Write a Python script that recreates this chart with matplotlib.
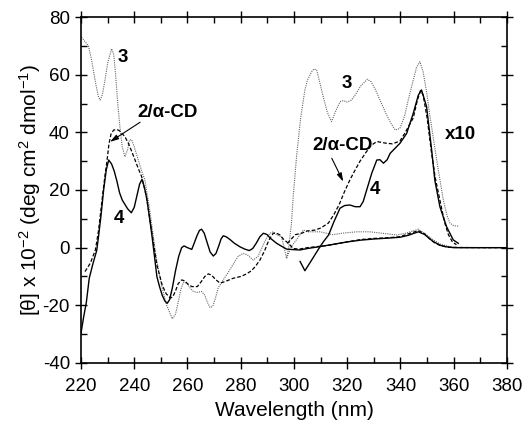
import matplotlib
matplotlib.use("Agg")
import matplotlib.pyplot as plt
from matplotlib.ticker import MultipleLocator

plt.rcParams['font.family'] = ['Liberation Sans', 'DejaVu Sans']
plt.rcParams['mathtext.fontset'] = 'custom'
plt.rcParams['mathtext.rm'] = 'Liberation Sans'
plt.rcParams['mathtext.it'] = 'Liberation Sans:italic'
plt.rcParams['axes.unicode_minus'] = False

# compound 4 (solid), full spectrum
wl_4 = [220, 221, 222, 223.1, 224.5, 225.9, 226.6, 227.5, 228.5, 229.5, 230.4, 231.5, 232.5,
        233.5, 234.5, 235.5, 236.5, 237.5, 238.9, 240, 241, 242, 242.9, 243.8, 244.8, 245.8,
        246.7, 247.6, 248.5, 249.5, 250.5, 251.5, 252.4, 253.3, 254.3, 255.5, 256.7, 257.8,
        258.7, 260, 261.6, 262.5, 263.5, 264.5, 265.3, 266.3, 267.3, 268.5, 269.7, 270.7,
        271.7, 272.6, 273.4, 274.5, 276, 277.5, 279.7, 281.5, 283.2, 284.5, 285.8, 287.2,
        288.5, 289.8, 291.2, 293.5, 295.5, 297.2, 300, 302.3, 305, 310, 315, 320, 325, 330,
        335, 339.8, 343, 346.7, 349, 352.3, 355, 357.3, 360, 370, 380]
cd_4 = [-29.7, -24, -19, -10.6, -5.5, -1, 4, 11, 20, 27, 30.4, 29, 26.5,
        23, 19, 16.5, 15, 13.5, 12.1, 14, 18, 22, 23.7, 21, 16.5, 10,
        3.8, -3, -10, -13.5, -16.5, -18.5, -19.3, -18, -14, -8, -3, 0,
        0.6, 0, -0.6, 1.5, 4, 6, 6.4, 5, 2, -1.5, -2.9, -2,
        0.5, 3, 4.1, 3.8, 2.8, 1.6, 0.3, -0.5, -1.0, -0.3, 1.5, 3.8,
        5.0, 4.6, 3.2, 1.5, 0.4, -0.5, -0.7, -0.8, -0.3, 0.4, 1.2, 2, 2.6, 3.0,
        3.3, 3.6, 4.3, 5.5, 4.6, 2.1, 0.8, 0.3, 0, 0, 0]

# compound 4 x10 (solid)
wl_4x = [302.3, 304.1, 306.5, 309, 311, 313, 315, 317.3, 319, 321, 323, 324.8, 326,
         327.3, 329.2, 331.1, 332.3, 333.6, 335, 336.1, 338, 339.8, 342.3, 344.8, 346.7,
         347.9, 349.8, 351.7, 352.9, 354.8, 357.3, 359.8, 361.7]
cd_4x = [-4.8, -8.0, -4.5, -0.8, 2, 4.4, 9, 13.7, 14.6, 14.8, 14.2, 14.2, 16,
         20, 25.8, 30.4, 30.5, 29.3, 30.5, 32.7, 34.5, 36.2, 39.6, 46.6, 52.9,
         54.7, 48.9, 33.9, 23.4, 14.2, 7.3, 2.7, 1.5]

# 2/alpha-CD (dashed)
wl_2 = [221.5, 223.5, 225.4, 226.6, 227.9, 229, 229.8, 230.5, 231.3, 232.3, 233.5, 234.5,
        235.5, 236.5, 237.8, 239, 240.3, 241.5, 242.8, 244.5, 246.5, 248.5, 250.5, 252,
        253.6, 254.5, 255.5, 256.5, 257.8, 259, 260, 261.6, 263.7, 265, 266.5, 267.8, 269,
        270.5, 272.2, 274, 277.2, 280, 282.2, 284, 285.5, 287.2, 289, 290.5, 292.2, 293.5,
        294.7, 296, 297.9, 299.7, 302, 305, 310, 313.5, 320, 325, 329.8, 335, 339.8, 343,
        346.7, 349, 351, 353, 355, 358, 370, 380]
cd_2 = [-8.3, -5.4, -0.8, 6, 16.5, 25, 30.4, 36, 39.5, 40.8, 41, 40.5,
        39.5, 38.5, 36.2, 33.5, 30.4, 27.5, 24.6, 18, 6, -6, -13, -16,
        -17.5, -17, -15, -12.5, -11.2, -11.5, -12.5, -13.5, -13.5, -12, -10, -9.1, -9.5,
        -11, -12.3, -11.8, -10.6, -10, -9.1, -8, -6.5, -4.3, -1, 2.5, 5, 5,
        4.4, 3, 1.5, -0.3, -0.5, 0, 0.5, 0.9, 2, 2.8, 3.2, 3.4, 3.8, 4.8,
        5.9, 4.8, 3, 1.6, 0.7, 0.1, 0, 0]

# 2/alpha-CD x10 (dashed)
wl_2x = [297.5, 299, 300.5, 302.9, 305, 307.9, 310, 312.9, 315, 317, 319, 321, 323, 324.8,
         327, 329, 331.1, 333, 334.8, 337, 339.8, 341.5, 343, 344.8, 346.3, 347.5, 348.5,
         350, 351.5, 353, 354.8, 356.5, 358, 359.5, 361]
cd_2x = [1.5, 3, 4.5, 5, 5.8, 6.1, 6.8, 8.5, 11.5, 15, 19.5, 23.5, 27, 30,
         33, 35.5, 36.8, 36.5, 36.2, 36, 37, 39.5, 42, 45, 51, 54.5, 53,
         45, 34, 24.5, 16.5, 9, 4.5, 2, 1]

# compound 3 (dotted)
wl_3 = [220.2, 221.5, 222.8, 224, 225.5, 226.5, 227.2, 228, 229, 230, 231.5, 232.3, 233,
        233.8, 234.6, 235.5, 236.5, 237.5, 238.2, 239, 240, 241.5, 243, 244, 246, 248, 250,
        252, 254.3, 255.5, 256.5, 257.5, 258.5, 259.7, 261, 262.2, 263.5, 265.3, 266.5,
        267.5, 268.5, 269.5, 270.5, 271.5, 273.4, 275, 277, 279, 281, 282.5, 284.7, 286.5,
        288, 289.5, 291, 292.2, 293.5, 295.3, 296.3, 297.2, 299, 300.4, 303.5, 305.4, 309.8,
        314.5, 318, 323.5, 328.5, 333, 338.6, 342, 346.7, 349, 352.3, 355, 358.6, 362, 380]
cd_3 = [73, 71.5, 70, 65, 57, 52.5, 51.2, 53, 58, 64, 69, 67, 60,
        50, 42, 35, 31.5, 34, 37.3, 37.5, 35, 30.4, 26, 23.5, 12, -2, -12,
        -19.5, -24.7, -23, -19, -14.5, -12, -12.3, -14, -15.2, -15.5, -15.2, -16.5,
        -19, -20.8, -20.3, -17.5, -14, -11.2, -9, -6, -3, -2, -2.5, -4.3, -3,
        0, 3, 5, 5.5, 4.5, 3.8, 0, -3.7, 0.5, 2.1, 6.1, 5.5, 5.5,
        4.5, 5, 5.5, 5.5, 5, 4.4, 5, 6.4, 5, 2.7, 1.2, 0.3, 0, 0]

# compound 3 x10 (dotted)
wl_3x = [297.2, 298, 299, 299.7, 301, 302.5, 304.1, 305, 306.6, 307.5, 308.5, 309.5, 311,
         312.5, 314.1, 315.5, 317.3, 318.5, 320, 321.6, 323, 325, 327.5, 329, 330.5, 332.3,
         334.8, 336.5, 338, 339.8, 341.5, 342.9, 344.5, 346, 347.3, 348.5, 349.8, 351.1,
         352.5, 354.2, 356.1, 357.5, 358.6, 360, 361.7]
cd_3x = [-3.7, 0, 8, 17.7, 32, 45, 54.7, 58, 61, 62, 61.6, 58, 52.3,
         47, 43.7, 47, 50.6, 51, 50.5, 51.2, 53, 56, 58.4, 57.5, 55, 51.2,
         46, 43, 40.8, 41.4, 45.5, 51.2, 57, 62.5, 64.5, 61, 54, 45.4,
         37, 26.9, 16.5, 11, 8.5, 7.6, 7.5]


def plot_spectra(output_filename="out.png"):
    fig = plt.figure(figsize=(5.28, 4.21), dpi=100)
    ax = fig.add_axes([0.1534, 0.1378, 0.8068, 0.8218])

    solid = dict(color='black', lw=1.0, ls='-')
    dashed = dict(color='black', lw=0.9, ls=(0, (3, 1.6)))
    dotted = dict(color='0.4', lw=0.8, ls=(0, (1, 1)))

    ax.plot(wl_3, cd_3, **dotted)
    ax.plot(wl_3x, cd_3x, **dotted)
    ax.plot(wl_2, cd_2, **dashed)
    ax.plot(wl_2x, cd_2x, **dashed)
    ax.plot(wl_4, cd_4, **solid)
    ax.plot(wl_4x, cd_4x, **solid)

    ax.set_xlim(220, 380)
    ax.set_ylim(-40, 80)
    ax.xaxis.set_major_locator(MultipleLocator(20))
    ax.xaxis.set_minor_locator(MultipleLocator(10))
    ax.yaxis.set_major_locator(MultipleLocator(20))
    ax.yaxis.set_minor_locator(MultipleLocator(10))
    ax.tick_params(which='major', direction='inout', length=8, width=1.0,
                   labelsize=13.5, top=True, right=True)
    ax.tick_params(which='minor', direction='in', length=4, width=1.0,
                   top=True, right=True)
    ax.tick_params(axis='x', which='major', pad=7)
    ax.tick_params(axis='y', which='major', pad=4)
    for sp in ax.spines.values():
        sp.set_linewidth(1.2)

    ax.set_xlabel('Wavelength (nm)', fontsize=15, labelpad=4)
    ax.set_ylabel(r'[θ] x 10$^{-2}$ (deg cm$^{2}$ dmol$^{-1}$)', fontsize=15, labelpad=0)

    bold = dict(fontsize=13.5, fontweight='bold', ha='center', va='center')
    ax.text(235.8, 66, '3', **bold)
    ax.text(234.3, 10, '4', **bold)
    ax.text(319.9, 57, '3', **bold)
    ax.text(330.4, 20.2, '4', **bold)
    ax.text(362.7, 39.4, 'x10', **bold)
    arrow = dict(arrowstyle='-|>,head_length=0.5,head_width=0.15', color='black', lw=0.8,
                 shrinkA=0, shrinkB=0)
    ax.text(252.7, 46.9, '2/α-CD', **bold)
    ax.annotate('', xy=(230.9, 36.7), xytext=(242.2, 43.5), arrowprops=arrow)
    ax.text(318.4, 35.6, '2/α-CD', **bold)
    ax.annotate('', xy=(318.5, 22.9), xytext=(314.2, 31), arrowprops=arrow)

    fig.savefig(output_filename, dpi=100)


if __name__ == "__main__":
    plot_spectra()
